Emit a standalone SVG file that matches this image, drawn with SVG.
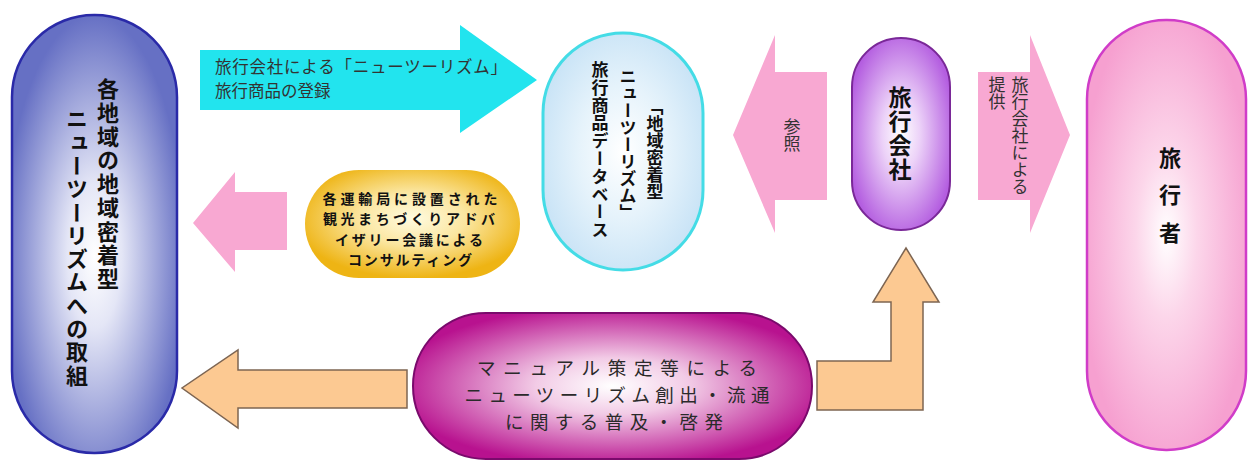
<svg xmlns="http://www.w3.org/2000/svg" width="1248" height="464" viewBox="0 0 1248 464">
<style>
.jp{font-family:"Noto Sans CJK JP","Noto Sans CJK SC",sans-serif}
.vt{writing-mode:vertical-rl;text-orientation:mixed}
.nb{font-weight:bold;fill:#111}
.al{font-weight:normal;fill:#333}
.pk{fill:#f8a8d2}
.or{fill:#fcc992;stroke:#7d6552;stroke-width:1.5;stroke-linejoin:miter}
</style>
<defs>
<radialGradient id="gBlue" cx="0.5" cy="0.55" r="0.55">
<stop offset="0" stop-color="#ffffff"/><stop offset="0.3" stop-color="#e4e6f6"/><stop offset="1" stop-color="#6670c4"/>
</radialGradient>
<radialGradient id="gCyan" cx="0.5" cy="0.5" r="0.55">
<stop offset="0" stop-color="#ffffff"/><stop offset="0.5" stop-color="#e6f3fb"/><stop offset="1" stop-color="#c8e3f6"/>
</radialGradient>
<radialGradient id="gPurple" cx="0.5" cy="0.5" r="0.55">
<stop offset="0" stop-color="#ffffff"/><stop offset="0.35" stop-color="#ecd2f8"/><stop offset="1" stop-color="#b45ee0"/>
</radialGradient>
<radialGradient id="gPink" cx="0.5" cy="0.5" r="0.55">
<stop offset="0" stop-color="#ffffff"/><stop offset="0.35" stop-color="#fcd6ea"/><stop offset="1" stop-color="#f6a0d0"/>
</radialGradient>
<radialGradient id="gYellow" cx="0.5" cy="0.45" r="0.55">
<stop offset="0" stop-color="#fffbe0"/><stop offset="0.45" stop-color="#fbe6a0"/><stop offset="1" stop-color="#eeb414"/>
</radialGradient>
<radialGradient id="gMag" cx="0.5" cy="0.5" r="0.55">
<stop offset="0" stop-color="#ffffff"/><stop offset="0.35" stop-color="#f2cbe6"/><stop offset="1" stop-color="#b8128f"/>
</radialGradient>
</defs>
<rect width="1248" height="464" fill="#ffffff"/>

<g id="connectors">
<polygon id="arrow-register" points="200,50 460,50 460,25 537,80 460,133 460,110 200,110" fill="#22e4ee"/>
<polygon id="arrow-consult" class="pk" points="287,192 235,192 235,172 193,223 235,272 235,250 287,250"/>
<polygon id="arrow-refer" class="pk" points="827,72 775,72 775,35 733,135 775,233 775,200 827,200"/>
<polygon id="arrow-provide" class="pk" points="978,72 1030,72 1030,35 1070,135 1030,233 1030,200 978,200"/>
<polygon id="arrow-spread-left" class="or" points="407,370 238,370 238,350 182,388 238,428 238,408 407,408"/>
<polygon id="arrow-spread-up" class="or" points="817,361 891,361 891,302 873,302 906,248 939,302 923,302 923,410 817,410"/>
<text class="jp al" font-size="16.5"><tspan x="215" y="73" textLength="292" lengthAdjust="spacing">旅行会社による「ニューツーリズム」</tspan><tspan x="215" y="97">旅行商品の登録</tspan></text>
<text class="jp vt al" font-size="17" x="792" y="118">参照</text>
<text class="jp vt al" font-size="17" x="1020" y="76">旅行会社による</text>
<text class="jp vt al" font-size="17" x="997" y="76">提供</text>
</g>

<g id="node-local">
<rect x="12" y="15" width="165" height="438" rx="82" ry="82" fill="url(#gBlue)" stroke="#2a2aa8" stroke-width="2.5"/>
<text class="jp vt nb" font-size="22" letter-spacing="1.7" x="108" y="78">各地域の地域密着型</text>
<text class="jp vt nb" font-size="22" letter-spacing="1.3" x="77" y="108">ニューツーリズムへの取組</text>
</g>

<g id="node-advisory">
<rect x="305" y="170" width="215" height="108" rx="54" ry="54" fill="url(#gYellow)"/>
<text class="jp nb" font-size="14" text-anchor="middle"><tspan x="410" y="204" textLength="175" lengthAdjust="spacing">各運輸局に設置された</tspan><tspan x="409" y="224.3" textLength="172" lengthAdjust="spacing">観光まちづくりアドバ</tspan><tspan x="409" y="244.6" textLength="148" lengthAdjust="spacing">イザリー会議による</tspan><tspan x="410" y="264.9" textLength="124" lengthAdjust="spacing">コンサルティング</tspan></text>
</g>

<g id="node-database">
<rect x="543" y="33" width="160" height="237" rx="80" ry="80" fill="url(#gCyan)" stroke="#44dce6" stroke-width="3"/>
<text class="jp vt nb" font-size="17" x="655" y="98">「地域密着型</text>
<text class="jp vt nb" font-size="17" x="628" y="68">ニューツーリズム」</text>
<text class="jp vt nb" font-size="17" letter-spacing="0.8" x="600" y="61">旅行商品データベース</text>
</g>

<g id="node-agency">
<rect x="852" y="38" width="98" height="192" rx="49" ry="49" fill="url(#gPurple)" stroke="#7a2898" stroke-width="2"/>
<text class="jp vt nb" font-size="23" letter-spacing="1" x="900" y="86">旅行会社</text>
</g>

<g id="node-traveler">
<rect x="1087" y="20" width="159" height="430" rx="79" ry="79" fill="url(#gPink)" stroke="#d03cc8" stroke-width="2.5"/>
<text class="jp nb" font-size="22" text-anchor="middle" dominant-baseline="central" x="1170" y="156">旅</text>
<text class="jp nb" font-size="22" text-anchor="middle" dominant-baseline="central" x="1170" y="193">行</text>
<text class="jp nb" font-size="22" text-anchor="middle" dominant-baseline="central" x="1170" y="231">者</text>
</g>

<g id="node-spread">
<rect x="413" y="313" width="399" height="146" rx="73" ry="73" fill="url(#gMag)" stroke="#7a0a6c" stroke-width="2"/>
<text class="jp" fill="#2a2a2a" font-size="18.5" text-anchor="middle"><tspan x="617" y="375" textLength="280" lengthAdjust="spacing">マニュアル策定等による</tspan><tspan x="617" y="402" textLength="305" lengthAdjust="spacing">ニューツーリズム創出・流通</tspan><tspan x="614" y="429" textLength="218" lengthAdjust="spacing">に関する普及・啓発</tspan></text>
</g>
</svg>
